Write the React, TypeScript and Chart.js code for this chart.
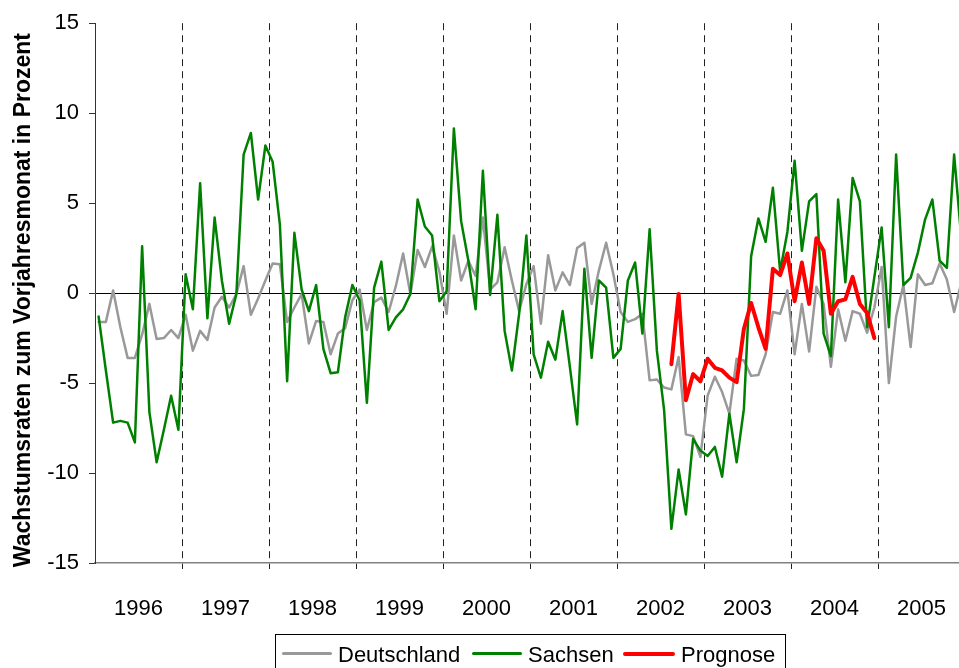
import { useEffect, useRef } from "react"
import { Chart, registerables } from "chart.js"

Chart.register(...registerables)

const FONT = "'Liberation Sans', Arial, sans-serif"

const years = ["1996", "1997", "1998", "1999", "2000", "2001", "2002", "2003", "2004", "2005"]
// one category per month, Jan 1996 .. Dec 2005
const months = years.flatMap((y) =>
  ["01", "02", "03", "04", "05", "06", "07", "08", "09", "10", "11", "12"].map((m) => `${y}-${m}`)
)

const yTitle = "Wachstumsraten zum Vorjahresmonat in Prozent"

const deutschland = [
  -1.6, -1.6, 0.15, -1.9, -3.6, -3.6, -2.3, -0.6, -2.55, -2.5, -2.05, -2.5,
  -1.2, -3.2, -2.1, -2.6, -0.8, -0.2, -0.8, -0.05, 1.5, -1.2, -0.3, 0.7,
  1.65, 1.6, -1.6, -0.8, -0.05, -2.8, -1.55, -1.6, -3.4, -2.25, -1.95, -0.4,
  0.2, -2.05, -0.5, -0.25, -1.05, 0.4, 2.2, -0.05, 2.4, 1.45, 2.6, 1.2,
  -1.15, 3.2, 0.7, 1.8, 0.95, 4.2, 0.2, 0.6, 2.55, 0.7, -1.0, 0.5,
  1.5, -1.7, 2.1, 0.15, 1.15, 0.45, 2.5, 2.8, -0.6, 1.25, 2.8, 1.05,
  -1.05, -1.6, -1.45, -1.15, -4.85, -4.8, -5.25, -5.35, -3.55, -7.85, -7.95, -9.1,
  -5.7, -4.65, -5.5, -6.7, -3.65, -3.75, -4.6, -4.55, -3.4, -1.05, -1.15, 0.15,
  -3.4, -0.6, -3.25, 0.35, -0.6, -4.1, -0.9, -2.65, -1.0, -1.15, -2.2, -0.8,
  1.45, -5.0, -1.3, 0.45, -3.0, 1.05, 0.45, 0.55, 1.65, 0.75, -1.05, 0.6,
]

const sachsen = [
  -1.3, -4.3, -7.2, -7.1, -7.2, -8.3, 2.6, -6.6, -9.4, -7.6, -5.7, -7.6,
  1.05, -0.9, 6.1, -1.4, 4.2, 0.7, -1.7, -0.05, 7.7, 8.9, 5.2, 8.2,
  7.3, 3.8, -4.9, 3.35, 0.2, -1.0, 0.45, -3.1, -4.45, -4.4, -1.35, 0.45,
  -0.4, -6.1, 0.3, 1.75, -2.05, -1.35, -0.9, -0.05, 5.2, 3.7, 3.2, -0.45,
  0.1, 9.15, 4.0, 1.8, -0.9, 6.8, -0.1, 4.35, -2.1, -4.3, -1.15, 3.2,
  -3.4, -4.7, -2.7, -3.7, -1.0, -4.1, -7.3, 1.35, -3.6, 0.7, 0.3, -3.6,
  -3.1, 0.7, 1.7, -2.25, 3.55, -3.2, -6.5, -13.1, -9.8, -12.3, -8.1, -8.75,
  -9.05, -8.55, -10.2, -6.7, -9.4, -6.45, 2.05, 4.15, 2.85, 5.85, 1.2, 3.4,
  7.35, 2.35, 5.1, 5.5, -2.25, -3.5, 5.2, 0.6, 6.4, 5.1, -1.9, 0.9,
  3.65, -1.9, 7.7, 0.45, 0.85, 2.25, 4.1, 5.2, 1.8, 1.4, 7.7, 3.0,
]

// Prognose runs from Aug 2002 to Dec 2004
const prognoseStart = "2002-08"
const prognoseValues = [
  -3.95, -0.05, -5.95, -4.5, -4.9,
  -3.65, -4.15, -4.3, -4.7, -4.95, -2.0, -0.55, -1.9, -3.1, 1.35, 1.0, 2.2,
  -0.45, 1.7, -0.6, 3.05, 2.35, -1.15, -0.45, -0.35, 0.9, -0.6, -1.1, -2.5,
]

const startIdx = months.indexOf(prognoseStart)
const prognose = months.map((_, i) =>
  i >= startIdx && i < startIdx + prognoseValues.length ? prognoseValues[i - startIdx] : null
)

const legendItems = [
  { label: "Deutschland", color: "#999999", lineLeft: 6, lineWidth: 50, thick: 3, textLeft: 62 },
  { label: "Sachsen", color: "#008000", lineLeft: 196, lineWidth: 50, thick: 3, textLeft: 252 },
  { label: "Prognose", color: "#ff0000", lineLeft: 347, lineWidth: 52, thick: 4, textLeft: 405 },
]

const yearBoundary = (ctx: any) =>
  typeof ctx.index === "number" && ctx.index > 0 && ctx.index % 12 === 0 ? "#222222" : "transparent"

// rotated y title, drawn by hand so it sits where Excel put it
const yTitlePlugin = {
  id: "yTitle",
  afterDraw(chart: Chart) {
    const { ctx, chartArea } = chart
    ctx.save()
    ctx.translate(23.5, (chartArea.top + chartArea.bottom) / 2 + 7)
    ctx.rotate(-Math.PI / 2)
    ctx.font = `bold 23px ${FONT}`
    ctx.fillStyle = "#000"
    ctx.textAlign = "center"
    ctx.textBaseline = "middle"
    ctx.fillText(yTitle, 0, 0)
    ctx.restore()
  },
}

export default function App() {
  const chartRef = useRef<HTMLCanvasElement>(null)
  const chartInstance = useRef<Chart | null>(null)

  useEffect(() => {
    if (!chartRef.current) return
    if (chartInstance.current) chartInstance.current.destroy()
    const ctx = chartRef.current.getContext("2d")
    if (!ctx) return

    chartInstance.current = new Chart(ctx, {
      type: "line",
      data: {
        labels: months,
        datasets: [
          {
            label: "Deutschland",
            data: deutschland,
            borderColor: "#999999",
            borderWidth: 2.5,
            order: 3,
          },
          {
            label: "Sachsen",
            data: sachsen,
            borderColor: "#008000",
            borderWidth: 2.5,
            order: 2,
          },
          {
            label: "Prognose",
            data: prognose,
            borderColor: "#ff0000",
            borderWidth: 4,
            order: 1,
          },
        ],
      },
      options: {
        animation: false,
        responsive: true,
        maintainAspectRatio: false,
        layout: { padding: { top: 22, right: 0, bottom: 0, left: 0 } },
        elements: {
          point: { radius: 0, hoverRadius: 0 },
          line: { tension: 0, borderJoinStyle: "round", borderCapStyle: "round", fill: false },
        },
        plugins: {
          legend: { display: false },
          tooltip: { enabled: false },
        },
        scales: {
          x: {
            type: "category",
            offset: true,
            grid: {
              offset: true,
              color: yearBoundary,
              tickColor: yearBoundary,
              lineWidth: 1,
              tickLength: 6,
            },
            border: { color: "#808080", width: 1.5, dash: [7, 5] },
            ticks: {
              autoSkip: false,
              maxRotation: 0,
              minRotation: 0,
              labelOffset: 3.6,
              padding: 27,
              color: "#000",
              font: { family: FONT, size: 22 },
              callback: (_v: any, i: number) => (i % 12 === 5 ? years[Math.floor(i / 12)] : ""),
            },
            afterFit: (s: any) => {
              s.height = 105
              s.paddingLeft = 0
              s.paddingRight = 0
            },
          },
          y: {
            min: -15,
            max: 15,
            ticks: {
              stepSize: 5,
              padding: 10,
              color: "#000",
              font: { family: FONT, size: 22 },
            },
            grid: {
              color: (c: any) => (c.tick && c.tick.value === 0 ? "#000000" : "transparent"),
              tickColor: "#333333",
              tickLength: 6,
              lineWidth: 1,
            },
            border: { color: "#333333", width: 1 },
            afterFit: (s: any) => {
              s.width = 95
            },
          },
        },
      },
      plugins: [yTitlePlugin],
    })

    return () => {
      if (chartInstance.current) {
        chartInstance.current.destroy()
        chartInstance.current = null
      }
    }
  }, [])

  return (
    <div style={{ position: "fixed", left: 0, top: 0, width: 959, height: 668, overflow: "hidden", background: "#fff" }}>
      <div style={{ position: "relative", width: 965, height: 668 }}>
        <canvas ref={chartRef} />
        <div
          style={{
            position: "absolute",
            left: 275,
            top: 634,
            width: 511,
            height: 60,
            border: "1px solid #000",
            boxSizing: "border-box",
            fontFamily: FONT,
            fontSize: 22,
            lineHeight: "22px",
            color: "#000",
          }}
        >
          {legendItems.map((it) => (
            <div key={it.label}>
              <div
                style={{
                  position: "absolute",
                  left: it.lineLeft,
                  top: 18.7 - it.thick / 2,
                  width: it.lineWidth,
                  height: it.thick,
                  borderRadius: it.thick / 2,
                  background: it.color,
                }}
              />
              <div style={{ position: "absolute", left: it.textLeft, top: 8.7, whiteSpace: "nowrap" }}>{it.label}</div>
            </div>
          ))}
        </div>
      </div>
    </div>
  )
}
